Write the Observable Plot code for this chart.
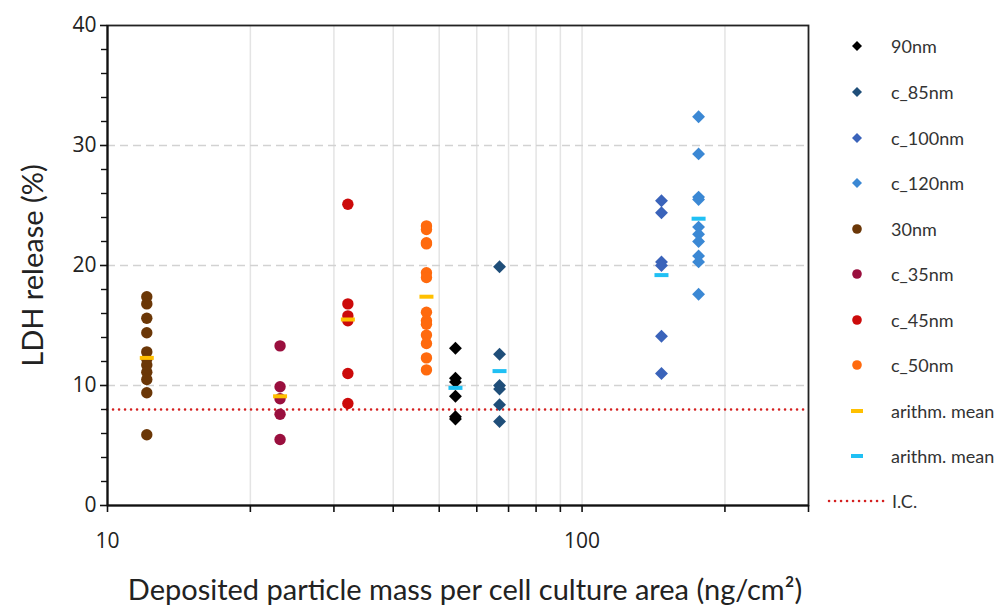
<!DOCTYPE html>
<html>
<head>
<meta charset="utf-8">
<script src="https://cdn.jsdelivr.net/npm/d3@7"></script>
<script src="https://cdn.jsdelivr.net/npm/@observablehq/plot@0.6"></script>
<style>
  html, body { margin: 0; padding: 0; background: #fff; }
  #wrap { position: relative; width: 1005px; height: 608px; overflow: hidden; }
  #legend { position: absolute; left: 820px; top: 0; width: 185px; font-family: Lato, "Open Sans", sans-serif; font-size: 18px; color: #333; }
  .row { position: absolute; left: 0; height: 20px; display: flex; align-items: center; white-space: nowrap; }
  .row svg { flex: none; }
  .row span { position: absolute; left: 71px; }
</style>
</head>
<body>
<div id="wrap"><div id="chart"></div><div id="legend"></div></div>
<script>
// ---- data ----
const groups = ["90nm", "c_85nm", "c_100nm", "c_120nm", "30nm", "c_35nm", "c_45nm", "c_50nm"];
const groupX = [54.1, 67.0, 147, 176, 12.1, 23.1, 32.1, 47.0];
const groupShape = ["diamond2", "diamond2", "diamond2", "diamond2", "circle", "circle", "circle", "circle"];
const groupColor = ["#000000", "#1F4E79", "#3A63BA", "#3B88D4", "#6B3707", "#9A0F3E", "#CC0A0A", "#FF6A0E"];
const v90 = [13.1, 10.6, 10.3, 9.1, 7.4, 7.2];
const v85 = [19.9, 12.6, 10.0, 9.7, 8.4, 7.0];
const v100 = [25.4, 24.4, 20.3, 20.0, 14.1, 11.0];
const v120 = [32.4, 29.3, 25.7, 25.5, 23.2, 22.6, 22.0, 20.8, 20.3, 17.6];
const v30 = [17.4, 16.8, 15.6, 14.4, 12.8, 12.2, 11.7, 11.1, 10.5, 9.4, 5.9];
const v35 = [13.3, 9.9, 8.9, 7.6, 5.5];
const v45 = [25.1, 16.8, 15.8, 15.4, 11.0, 8.5];
const v50 = [23.3, 23.0, 21.9, 21.8, 19.4, 19.0, 16.1, 15.4, 15.1, 14.2, 13.5, 12.3, 11.3];
const groupValues = [v90, v85, v100, v120, v30, v35, v45, v50];
const meanYellowX = [12.1, 23.1, 32.1, 47.0];
const meanYellow = [12.3, 9.1, 15.5, 17.4];
const meanCyanX = [54.1, 67.0, 147, 176];
const meanCyan = [9.8, 11.2, 19.2, 23.9];
const yellowColor = "#FFC000";
const cyanColor = "#20C0F4";
const icValue = 8.0;
const icColor = "#D42020";
const xTicks = [10, 20, 30, 40, 50, 60, 70, 80, 90, 100, 200, 300];
const xLabelTicks = [10, 100];
const xGrid = [20, 30, 40, 50, 60, 70, 80, 90, 100, 200];
const yTicks = [0, 10, 20, 30, 40];
const yMinor = [2, 4, 6, 8, 12, 14, 16, 18, 22, 24, 26, 28, 32, 34, 36, 38];
const yGrid = [10, 20, 30];
const xLabel = "Deposited particle mass per cell culture area (ng/cm²)";
const yLabel = "LDH release (%)";
const legendLabels = ["90nm", "c_85nm", "c_100nm", "c_120nm", "30nm", "c_35nm", "c_45nm", "c_50nm", "arithm. mean", "arithm. mean", "I.C."];

// ---- build table ----
const points = [];
groups.forEach((g, i) => groupValues[i].forEach(v => points.push({group: g, x: groupX[i], y: v, shape: groupShape[i], color: groupColor[i]})));
const yellowMeans = meanYellowX.map((x, i) => ({x, y: meanYellow[i]}));
const cyanMeans = meanCyanX.map((x, i) => ({x, y: meanCyan[i]}));

const dash = {draw(ctx) { ctx.moveTo(-7, -2); ctx.lineTo(7, -2); ctx.lineTo(7, 2); ctx.lineTo(-7, 2); ctx.closePath(); }};

const chart = Plot.plot({
  width: 1005, height: 608,
  marginLeft: 107, marginRight: 197, marginTop: 25, marginBottom: 103,
  x: {type: "log", domain: [10, 300]},
  y: {domain: [0, 40]},
  style: {fontFamily: "'Open Sans', sans-serif", fontSize: "21px", color: "#222", background: "#fff", overflow: "visible"},
  marks: [
    Plot.gridX(xGrid, {stroke: "#e4e4e4", strokeOpacity: 1, strokeWidth: 1.5}),
    Plot.gridY(yGrid, {stroke: "#d2d2d2", strokeOpacity: 1, strokeWidth: 1.5, strokeDasharray: "8,5"}),
    Plot.ruleY([icValue], {stroke: icColor, strokeWidth: 2.5, strokeDasharray: "0.1,5.9", strokeLinecap: "round"}),
    Plot.frame({stroke: "#222", strokeWidth: 1.8}),
    Plot.dot(points.filter(d => d.shape === "circle"), {x: "x", y: "y", symbol: "circle", r: 5.7, fill: "color", stroke: "none"}),
    Plot.dot(points.filter(d => d.shape !== "circle"), {x: "x", y: "y", symbol: "diamond2", r: 5.8, fill: "color", stroke: "none"}),
    Plot.dot(yellowMeans, {x: "x", y: "y", symbol: dash, fill: yellowColor, stroke: "none"}),
    Plot.dot(cyanMeans, {x: "x", y: "y", symbol: dash, fill: cyanColor, stroke: "none"}),
    Plot.axisX({ticks: xTicks, tickFormat: d => xLabelTicks.includes(d) ? String(d) : "", tickSize: 7, tickPadding: 21, strokeWidth: 1.6, stroke: "#111", label: null, fontSize: 21}),
    Plot.axisY({ticks: yTicks, tickSize: 7, tickPadding: 4, strokeWidth: 1.6, stroke: "#111", label: null, fontSize: 21}),
    Plot.axisY({ticks: yMinor, tickSize: 6, tickFormat: () => "", strokeWidth: 1.4, stroke: "#111", label: null}),
    Plot.ruleY([0], {stroke: "#111", strokeWidth: 2}),
    Plot.ruleX([10], {stroke: "#111", strokeWidth: 2}),
    Plot.text([yLabel], {text: d => d, frameAnchor: "left", textAnchor: "middle", dx: -74, rotate: -90, fontSize: 29, fontFamily: "Lato, sans-serif", fill: "#222"}),
    Plot.text([xLabel], {text: d => d, frameAnchor: "bottom", textAnchor: "middle", lineAnchor: "bottom", dx: 7, dy: 94, fontSize: 29, fontFamily: "Lato, sans-serif", fill: "#222"})
  ]
});
document.getElementById("chart").appendChild(chart);

// ---- legend ----
const legend = document.getElementById("legend");
const rowY = [46, 92, 138, 183, 229, 274, 320, 365, 411, 456, 501];
legendLabels.forEach((lab, i) => {
  const row = document.createElement("div");
  row.className = "row";
  row.style.top = (rowY[i] - 10) + "px";
  row.style.width = "185px";
  let sw;
  if (i < 8) {
    const c = groupColor[i];
    if (groupShape[i] === "circle") {
      sw = `<svg width="60" height="20"><circle cx="37" cy="10" r="4.8" fill="${c}"/></svg>`;
    } else {
      sw = `<svg width="60" height="20"><path d="M37,5 L42,10 L37,15 L32,10Z" fill="${c}"/></svg>`;
    }
  } else if (i < 10) {
    const c = i === 8 ? yellowColor : cyanColor;
    sw = `<svg width="60" height="20"><rect x="31" y="8" width="12" height="4" fill="${c}"/></svg>`;
  } else {
    sw = `<svg width="66" height="20"><line x1="9" y1="10" x2="64" y2="10" stroke="${icColor}" stroke-width="2.5" stroke-dasharray="0.1,5.9" stroke-linecap="round"/></svg>`;
  }
  row.innerHTML = sw + `<span style="left:${i === 10 ? 72 : 71}px">${lab}</span>`;
  legend.appendChild(row);
});
</script>
</body>
</html>
